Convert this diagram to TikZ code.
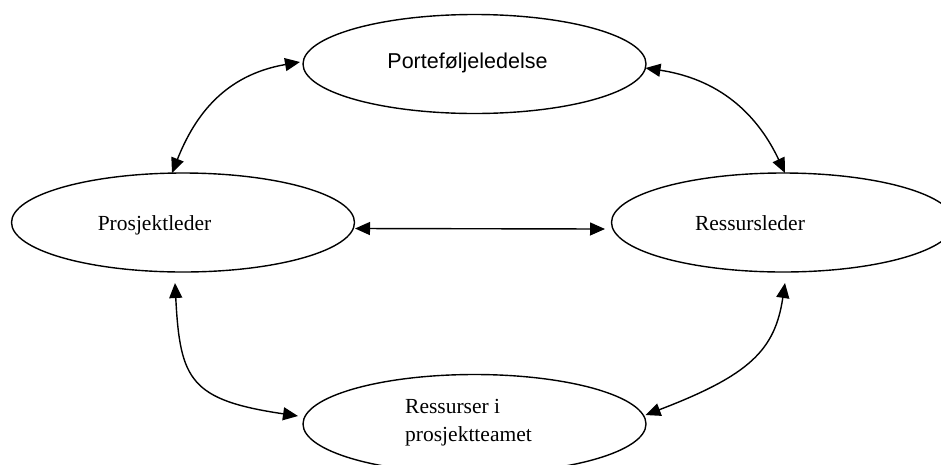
\documentclass[tikz,border=0pt]{standalone}
\usepackage{fontspec}
\setmainfont{Liberation Serif}
\newfontfamily\arialfont{Liberation Sans}
\usetikzlibrary{shapes.geometric,arrows.meta}

\begin{document}
\begin{tikzpicture}[x=1pt,y=-1pt,
  role/.style={draw, ellipse, line width=1.4pt, inner sep=0pt,
    minimum width=343pt, minimum height=99pt},
  roletext/.style={inner sep=0pt, font=\fontsize{21.5}{28.5}\selectfont},
  link/.style={line width=1.4pt,
    {Triangle[length=15pt,width=13pt]}-{Triangle[length=15pt,width=13pt]}}
]
\useasboundingbox (0,0) rectangle (941,464);
\clip (0,0) rectangle (941,464);

% the four roles
\node[role] (pf) at (474.5,64) {};
\node[role] (pl) at (183,222.5) {};
\node[role] (rl) at (783,222.5) {};
\node[role] (rt) at (474.5,424) {};

% their names
\node[roletext, font=\arialfont\fontsize{21.5}{26}\selectfont, anchor=base]
  (pft) at (467.5,68) {Porteføljeledelse};
\node[roletext, anchor=base] (plt) at (154.5,230) {Prosjektleder};
\node[roletext, anchor=base] (rlt) at (750,230) {Ressursleder};
\node[roletext, anchor=west, align=left] (rtt) at (405,422.5)
  {Ressurser i\\prosjektteamet};

% two-way links between the roles
\draw[link] ([shift={(-174.5,-2)}]pf.center)
  .. controls (225,75) and (195,115) .. ([shift={(-11,-49.5)}]pl.center);
\draw[link] ([shift={(171,4)}]pf.center)
  .. controls (725,80) and (760,120) .. ([shift={(2,-49.5)}]rl.center);
\draw[link] ([shift={(172,6)}]pl.center) -- ([shift={(-178,6.5)}]rl.center);
\draw[link] ([shift={(-8,60.5)}]pl.center)
  .. controls (180,380) and (190,400) .. ([shift={(-176.5,-8)}]rt.center);
\draw[link] ([shift={(2,60.5)}]rl.center)
  .. controls (775,350) and (750,375) .. ([shift={(171,-9)}]rt.center);
\end{tikzpicture}
\end{document}
